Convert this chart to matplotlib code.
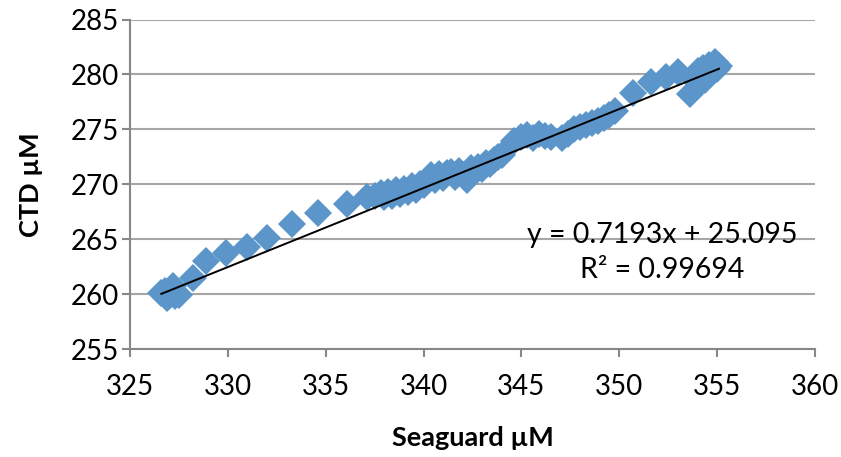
import matplotlib
matplotlib.use("Agg")
import matplotlib.pyplot as plt

plt.rcParams['font.family'] = ['Lato', 'DejaVu Sans']

# Seaguard vs CTD readings
seaguard = [326.6, 326.8, 326.9, 327.0, 327.1, 327.2, 327.3, 327.4, 327.5, 327.0,
            328.2, 328.9, 329.9, 331.0, 332.0, 333.3, 334.6, 336.1, 337.1,
            337.5, 337.8, 338.0, 338.2, 338.4, 338.6, 338.8, 339.0, 339.2, 339.4,
            339.6, 339.8, 340.0, 340.2, 340.4, 340.6, 340.8, 341.0, 341.2, 341.4,
            341.6, 341.8, 342.0, 342.2, 342.4, 342.6, 342.8, 343.0, 343.2, 343.4,
            343.6, 343.8, 344.0,
            344.6, 345.0, 345.3, 345.6, 345.9, 346.2, 346.5, 347.1, 347.4, 347.7,
            348.0, 348.3, 348.6, 348.9, 349.2, 349.5, 349.8,
            350.7, 351.6, 352.4, 353.0, 353.6, 353.8, 354.0, 354.1, 354.3, 354.4,
            354.6, 354.7, 354.9, 355.0, 355.1]
ctd = [260.1, 260.3, 259.6, 260.0, 260.5, 260.7, 259.8, 260.1, 259.9, 259.8,
       261.5, 263.0, 263.7, 264.3, 265.1, 266.4, 267.4, 268.2, 268.8,
       268.9, 269.2, 268.8, 269.3, 268.9, 269.5, 269.1, 269.6, 269.3, 269.8,
       269.5, 270.0, 269.9, 270.3, 270.8, 270.4, 270.9, 270.6, 271.0, 271.1,
       270.7, 271.2, 270.8, 270.4, 271.5, 271.2, 271.6, 271.4, 271.9, 271.8,
       272.2, 272.5, 272.7,
       273.9, 274.3, 274.5, 274.2, 274.6, 274.4, 274.3, 274.2, 274.6, 275.0,
       275.2, 275.4, 275.6, 275.8, 276.0, 276.3, 276.7,
       278.3, 279.3, 279.8, 280.2, 278.2, 279.6, 280.3, 279.1, 280.6, 279.5,
       280.9, 280.1, 281.1, 280.5, 280.8]

# linear trend reported on the chart
slope = 0.7193
intercept = 25.095
r2 = 0.99694

fig = plt.figure(figsize=(8.41, 4.57), dpi=100)
ax = fig.add_axes([0.1546, 0.2363, 0.8144, 0.7210])

ax.plot(seaguard, ctd, linestyle='none', marker='D', markersize=14.5,
        color='#5B95CA', markeredgewidth=0, zorder=3)

xl = [min(seaguard), max(seaguard)]
ax.plot(xl, [slope * v + intercept for v in xl], color='black', lw=1.4, zorder=4)

ax.set_xlim(325, 360)
ax.set_ylim(255, 285)
ax.set_xticks(range(325, 361, 5))
ax.set_yticks(range(255, 286, 5))
ax.yaxis.grid(True, color='#A6A6A6', lw=1.5)
ax.set_axisbelow(True)
for s in ['top', 'right']:
    ax.spines[s].set_visible(False)
for s in ['left', 'bottom']:
    ax.spines[s].set_color('#878787')
    ax.spines[s].set_linewidth(1.5)
ax.tick_params(direction='out', length=6, width=1.5, color='#878787',
               labelsize=20)
ax.tick_params(axis='x', pad=12)
ax.tick_params(axis='y', pad=2)

ax.set_xlabel('Seaguard µM', fontsize=19.5, fontweight='bold', labelpad=19)
ax.set_ylabel('CTD µM', fontsize=19.5, fontweight='bold', labelpad=20)

ax.text(352.2, 265.4, 'y = %.4fx + %.3f' % (slope, intercept), fontsize=20.5,
        ha='center', va='center')
ax.text(352.2, 262.2, 'R² = %.5f' % r2, fontsize=20.5, ha='center', va='center')

fig.savefig('out.png', dpi=100)
